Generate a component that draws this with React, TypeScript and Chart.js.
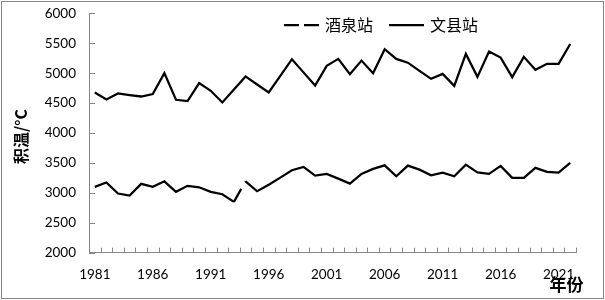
import React, { useEffect, useRef } from "react";
import { Chart, registerables } from "chart.js";

Chart.register(...registerables);

const years = [
  "1981", "1982", "1983", "1984", "1985", "1986", "1987", "1988", "1989", "1990",
  "1991", "1992", "1993", "1994", "1995", "1996", "1997", "1998", "1999", "2000",
  "2001", "2002", "2003", "2004", "2005", "2006", "2007", "2008", "2009", "2010",
  "2011", "2012", "2013", "2014", "2015", "2016", "2017", "2018", "2019", "2020",
  "2021", "2022",
];

// 酒泉站 (lower series)
const jiuquan = [
  3100, 3172, 2988, 2955, 3150, 3100, 3193, 3017, 3117, 3093,
  3017, 2977, 2850, 3193, 3027, 3135, 3255, 3377, 3433, 3288,
  3317, 3238, 3155, 3317, 3400, 3460, 3277, 3455, 3388, 3293,
  3338, 3277, 3472, 3343, 3317, 3450, 3250, 3250, 3417, 3350,
  3338, 3500,
];

// 文县站 (upper series)
const wenxian = [
  4677, 4560, 4660, 4633, 4610, 4650, 5000, 4555, 4533, 4833,
  4705, 4510, 4727, 4945, 4810, 4677, 4955, 5233, 5013, 4793,
  5122, 5238, 4983, 5210, 5000, 5400, 5238, 5175, 5038, 4905,
  4988, 4788, 5322, 4938, 5360, 5260, 4933, 5272, 5055, 5155,
  5155, 5488,
];

const seriesNames = ["酒泉站", "文县站"];
const legendDashes = [[15, 5], []];
const yTitle = "积温/°C";
const xTitle = "年份";
const labelEvery = 5;

const AXIS = "#868686";

const decorPlugin = {
  id: "decor",
  afterDraw(chart: any) {
    const ctx = chart.ctx;
    const xs = chart.scales.x;
    const ys = chart.scales.y;
    const area = chart.chartArea;
    ctx.save();
    // outer border
    ctx.strokeStyle = AXIS;
    ctx.lineWidth = 1;
    ctx.strokeRect(1.5, 1.5, 602, 297);

    // inward tick marks on x (category boundaries)
    const n = chart.data.labels.length;
    const p0 = xs.getPixelForValue(0);
    const p1 = xs.getPixelForValue(1);
    const half = (p1 - p0) / 2;
    ctx.beginPath();
    for (let i = 0; i <= n; i++) {
      const x = i < n ? xs.getPixelForValue(i) - half : xs.getPixelForValue(n - 1) + half;
      const xr = Math.round(x) + 0.5;
      ctx.moveTo(xr, area.bottom);
      ctx.lineTo(xr, area.bottom - 5);
    }
    // inward ticks on y
    ys.ticks.forEach((t: any) => {
      const y = Math.round(ys.getPixelForValue(t.value)) + 0.5;
      ctx.moveTo(area.left, y);
      ctx.lineTo(area.left + 6, y);
    });
    ctx.stroke();

    // axis titles
    ctx.fillStyle = "#000";
    ctx.font = 'bold 16px "Noto Sans CJK SC"';
    ctx.textAlign = "center";
    ctx.textBaseline = "middle";
    ctx.save();
    ctx.translate(20.5, 136.5);
    ctx.rotate(-Math.PI / 2);
    ctx.fillText(yTitle, 0, 0);
    ctx.restore();
    ctx.font = 'bold 17px "Noto Sans CJK SC"';
    ctx.fillText(xTitle, 566.5, 284.5);

    // legend
    ctx.font = '16px "Noto Sans CJK SC"';
    ctx.textAlign = "left";
    let x = 284;
    const y = 25;
    chart.data.datasets.forEach((ds: any, i: number) => {
      ctx.beginPath();
      ctx.setLineDash(legendDashes[i] || []);
      ctx.lineWidth = 2.25;
      ctx.strokeStyle = ds.borderColor;
      ctx.moveTo(x, y);
      ctx.lineTo(x + 35, y);
      ctx.stroke();
      ctx.setLineDash([]);
      x += 41;
      ctx.fillText(ds.label, x, y);
      x += ctx.measureText(ds.label).width + 16;
    });
    ctx.restore();
  },
};

export default function App() {
  const ref = useRef<HTMLCanvasElement | null>(null);
  useEffect(() => {
    document.body.style.margin = "0";
    const canvas = ref.current;
    if (!canvas) return;
    const chart = new Chart(canvas, {
      type: "line",
      data: {
        labels: years,
        datasets: [
          {
            label: seriesNames[0],
            data: jiuquan,
            borderColor: "#000000",
            borderWidth: 2.25,
            pointRadius: 0,
            tension: 0,
            fill: false,
            segment: {
              borderDash: (c: any) => (c.p0DataIndex === 12 ? [15, 8] : undefined),
            },
          },
          {
            label: seriesNames[1],
            data: wenxian,
            borderColor: "#000000",
            borderWidth: 2.25,
            pointRadius: 0,
            tension: 0,
            fill: false,
          },
        ],
      },
      options: {
        responsive: false,
        animation: false,
        layout: { padding: { left: 0, right: 29, top: 13.3, bottom: 0 } },
        plugins: {
          legend: { display: false },
          tooltip: { enabled: false },
        },
        scales: {
          x: {
            type: "category",
            offset: true,
            grid: { display: true, drawOnChartArea: false, drawTicks: false, offset: true },
            border: { color: AXIS, width: 1 },
            ticks: {
              autoSkip: false,
              maxRotation: 0,
              minRotation: 0,
              padding: 14,
              color: "#000",
              font: { family: "Lato", size: 13.5 },
              callback: (_v: any, i: number) => (i % labelEvery === 0 ? years[i] : ""),
            },
            afterFit: (s: any) => {
              s.height = 47.3;
            },
          },
          y: {
            min: 2000,
            max: 6000,
            grid: { display: true, drawOnChartArea: false, drawTicks: false },
            border: { color: AXIS, width: 1 },
            ticks: {
              stepSize: 500,
              padding: 13,
              color: "#000",
              font: { family: "Lato", size: 13.5 },
              callback: (v: any) => String(v),
            },
            afterFit: (s: any) => {
              s.width = 89;
              s.paddingTop = 8;
              s.paddingBottom = 8;
            },
          },
        },
      },
      plugins: [decorPlugin],
    });
    return () => chart.destroy();
  }, []);
  return (
    <div style={{ width: 605, height: 300 }}>
      <canvas ref={ref} width={605} height={300} style={{ display: "block" }} />
    </div>
  );
}
